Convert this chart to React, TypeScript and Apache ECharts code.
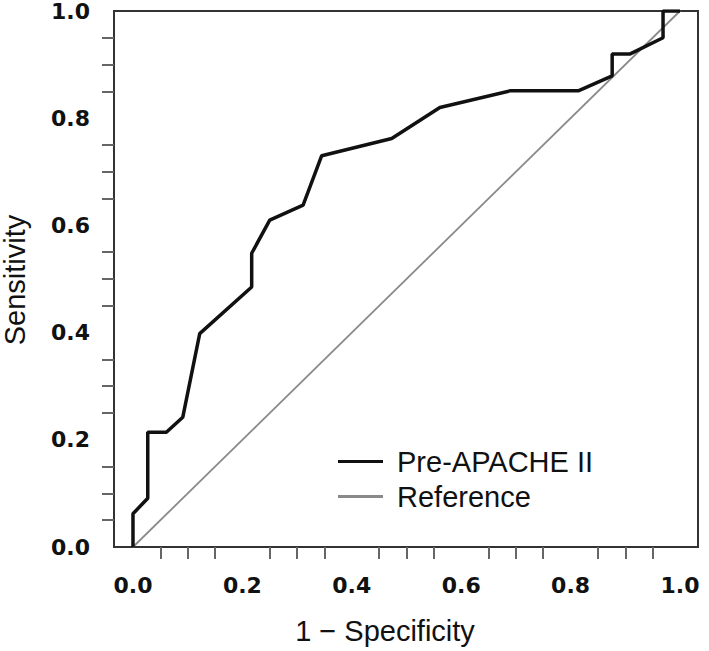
import React, { useEffect, useRef } from "react";
import * as echarts from "echarts";

const rocX = [0, 0, 0.027, 0.027, 0.061, 0.091, 0.122, 0.217, 0.217, 0.25, 0.311, 0.345, 0.473, 0.561, 0.689, 0.814, 0.876, 0.876, 0.909, 0.969, 0.969, 1.0];
const rocY = [0, 0.062, 0.091, 0.214, 0.214, 0.242, 0.398, 0.485, 0.548, 0.61, 0.638, 0.73, 0.762, 0.82, 0.851, 0.851, 0.879, 0.92, 0.92, 0.95, 1.0, 1.0];
const refX = [0, 1];
const refY = [0, 1];
const labelValues = [0, 0.2, 0.4, 0.6, 0.8, 1.0];
const tickValues = [0.05, 0.1, 0.15, 0.25, 0.3, 0.35, 0.45, 0.5, 0.55, 0.65, 0.7, 0.75, 0.85, 0.9, 0.95];
const seriesNames = ["Pre-APACHE II", "Reference"];
const xTitle = "1 \u2212 Specificity";
const yTitle = "Sensitivity";

export default function App() {
  const ref = useRef<HTMLDivElement>(null);
  useEffect(() => {
    if (!ref.current) return;
    const chart = echarts.init(ref.current, null, { renderer: "svg" });
    const tickStyle = { color: "#666", width: 2 };
    const labelStyle = {
      fontSize: 22,
      fontWeight: "bold" as const,
      fontFamily: "DejaVu Sans",
      color: "#111",
      formatter: (v: number) => v.toFixed(1),
      customValues: labelValues,
    };
    chart.setOption({
      animation: false,
      backgroundColor: "#fff",
      grid: { left: 114, right: 11, top: 9, bottom: 104, show: true, borderColor: "#333", borderWidth: 2 },
      xAxis: {
        type: "value",
        min: -0.0347,
        max: 1.0329,
        axisLine: { show: true, onZero: false, lineStyle: { color: "#333", width: 2 } },
        axisTick: { show: true, customValues: tickValues, length: 12, lineStyle: tickStyle },
        axisLabel: { ...labelStyle, margin: 27 },
        splitLine: { show: false },
      },
      yAxis: {
        type: "value",
        min: 0,
        max: 1,
        axisLine: { show: true, onZero: false, lineStyle: { color: "#333", width: 2 } },
        axisTick: { show: true, customValues: tickValues, length: 12, lineStyle: tickStyle },
        axisLabel: { ...labelStyle, margin: 24, padding: [10, 0, 0, 0] },
        splitLine: { show: false },
      },
      legend: {
        orient: "vertical",
        left: 333,
        top: 442,
        icon: "rect",
        itemWidth: 45,
        itemHeight: 3,
        itemGap: 6,
        data: seriesNames,
        textStyle: { fontSize: 29, fontFamily: "Liberation Sans", color: "#111", padding: [0, 0, 0, 9] },
      },
      series: [
        {
          name: seriesNames[1],
          type: "line",
          data: refX.map((x, i) => [x, refY[i]]),
          symbol: "none",
          lineStyle: { color: "#8a8a8a", width: 1.8 },
          itemStyle: { color: "#8a8a8a" },
          z: 2,
        },
        {
          name: seriesNames[0],
          type: "line",
          data: rocX.map((x, i) => [x, rocY[i]]),
          symbol: "none",
          lineStyle: { color: "#111", width: 3.5 },
          itemStyle: { color: "#111" },
          z: 3,
        },
      ],
      graphic: [
        {
          type: "text",
          x: 385,
          y: 631,
          style: { text: xTitle, fontSize: 29, fontFamily: "Liberation Sans", fill: "#111", align: "center", verticalAlign: "middle" },
        },
        {
          type: "text",
          x: 15,
          y: 280,
          rotation: Math.PI / 2,
          style: { text: yTitle, fontSize: 29, fontFamily: "Liberation Sans", fill: "#111", align: "center", verticalAlign: "middle" },
        },
      ],
    });
    return () => chart.dispose();
  }, []);
  return <div ref={ref} style={{ position: "fixed", left: 0, top: 0, width: 709, height: 651 }} />;
}
